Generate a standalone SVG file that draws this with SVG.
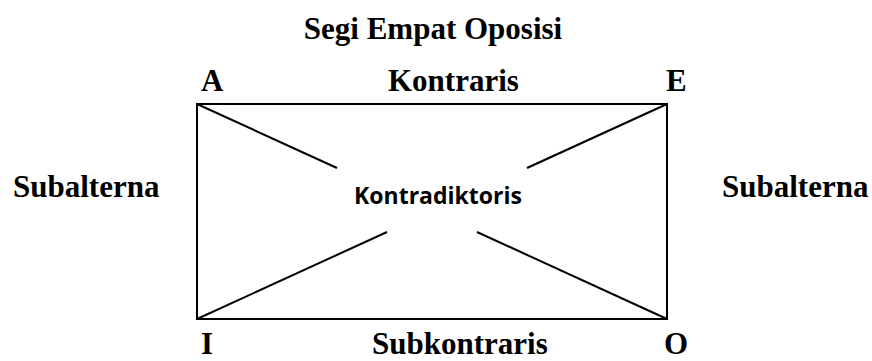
<svg xmlns="http://www.w3.org/2000/svg" width="872" height="361" viewBox="0 0 872 361">
<style>
.t{font-family:"Liberation Serif","Times New Roman",serif;font-weight:bold;font-size:31px;fill:#000}
.s{font-family:"Open Sans","Noto Sans",sans-serif;font-weight:bold;font-size:23px;fill:#000}
.ln{stroke:#000;stroke-width:2;fill:none}
</style>
<rect width="872" height="361" fill="#fff"/>
<text class="t" x="433" y="39" text-anchor="middle">Segi Empat Oposisi</text>
<g id="connectors">
<line class="ln" x1="197" y1="104" x2="337" y2="168"/>
<line class="ln" x1="667" y1="104" x2="527" y2="168"/>
<line class="ln" x1="197" y1="319" x2="387" y2="232"/>
<line class="ln" x1="667" y1="319" x2="477" y2="232"/>
</g>
<g id="square">
<rect class="ln" x="197" y="104" width="470" height="215"/>
</g>
<g id="node-A"><text class="t" x="201" y="91">A</text></g>
<g id="node-E"><text class="t" x="666" y="91">E</text></g>
<g id="node-I"><text class="t" x="201" y="354">I</text></g>
<g id="node-O"><text class="t" x="664" y="354">O</text></g>
<g id="label-kontraris"><text class="t" x="388" y="91">Kontraris</text></g>
<g id="label-subkontraris"><text class="t" x="372" y="354">Subkontraris</text></g>
<g id="label-subalterna-left"><text class="t" x="13" y="197">Subalterna</text></g>
<g id="label-subalterna-right"><text class="t" x="722" y="197">Subalterna</text></g>
<g id="label-kontradiktoris"><text class="s" x="438" y="204" text-anchor="middle">Kontradiktoris</text></g>
</svg>
